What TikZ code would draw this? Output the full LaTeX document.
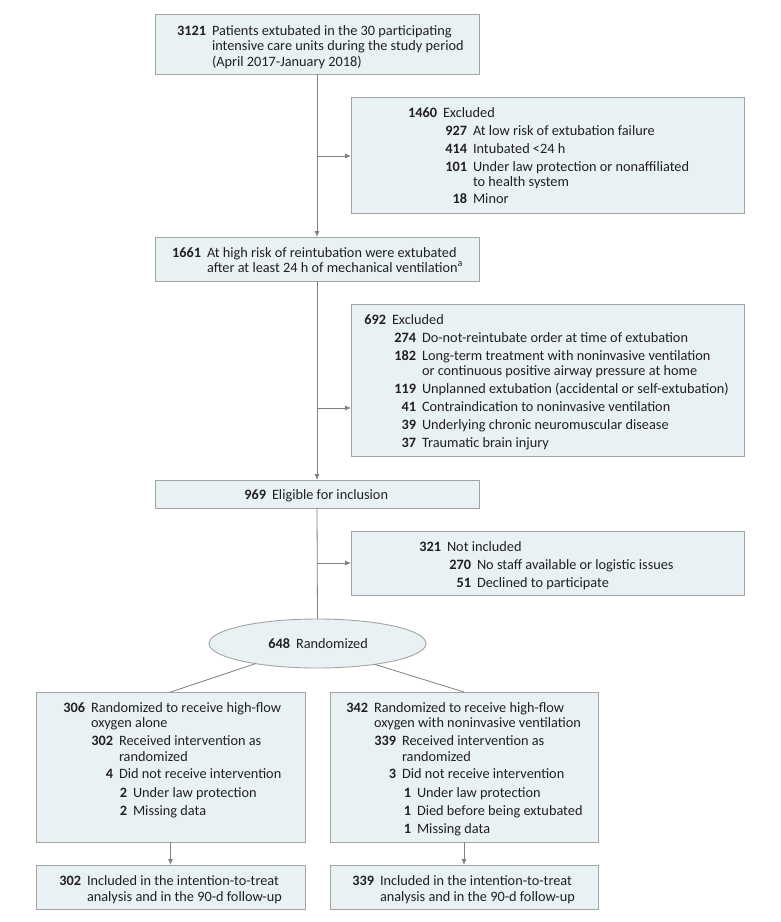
\documentclass[tikz,border=0pt]{standalone}
\usepackage{fontspec}
\setmainfont{Carlito}
\usetikzlibrary{shapes.geometric,arrows.meta}
\definecolor{boxfill}{HTML}{E8F2F4}
\definecolor{boxline}{HTML}{A3A3A3}
\definecolor{connc}{HTML}{808080}
\definecolor{ink}{HTML}{231F20}
\newcommand{\itm}[5]{\node[numtxt] (#1n) at ({#2-6},#3) {#4}; \node[bodytxt] (#1t) at (#2,#3) {#5};}
\newcommand{\cnt}[4]{\node[bodytxt] (#1) at (#2,#3) {#4};}
\begin{document}
\begin{tikzpicture}[x=1pt,y=-1pt,
 box/.style={draw=boxline,fill=boxfill,line width=0.9pt,inner sep=0pt,outer sep=0pt,anchor=north west},
 txt/.style={inner sep=0pt,outer sep=0pt,text=ink,font=\fontsize{14.3}{16}\selectfont},
 numtxt/.style={txt,font=\fontsize{14.3}{16}\selectfont\bfseries,anchor=base east},
 bodytxt/.style={txt,anchor=base west},
 conn/.style={draw=connc,line width=0.8pt},
 arr/.style={conn,-{Latex[length=6pt,width=5pt]}}]
\useasboundingbox (0,0) rectangle (780,922);

% boxes
\node[box,minimum width=324pt,minimum height=60pt] (b1) at (155,14) {};
\node[box,minimum width=393pt,minimum height=116pt] (b2) at (351,97) {};
\node[box,minimum width=324pt,minimum height=44pt] (b3) at (155,237) {};
\node[box,minimum width=393pt,minimum height=152pt] (b4) at (351,304) {};
\node[box,minimum width=324pt,minimum height=28pt] (b5) at (155,480) {};
\node[box,minimum width=393pt,minimum height=64pt] (b6) at (351,531) {};
\node[draw=boxline,fill=boxfill,line width=0.9pt,ellipse,minimum width=217pt,minimum height=49pt,inner sep=0pt,outer sep=0pt] (e) at (317.5,643.5) {};
\node[box,minimum width=269pt,minimum height=150pt] (bl) at (36,692) {};
\node[box,minimum width=268pt,minimum height=150pt] (br) at (330,692) {};
\node[box,minimum width=269pt,minimum height=44pt] (fl) at (36,865) {};
\node[box,minimum width=268pt,minimum height=44pt] (fr) at (330,865) {};

% connectors
\coordinate (j1) at (317,156);
\coordinate (j2) at (317,408);
\coordinate (j3) at (317,563);
\draw[arr] (b1.south) -- (b3.north);
\draw[arr] (j1) -- (j1 -| b2.west);
\draw[arr] (b3.south) -- (b5.north);
\draw[arr] (j2) -- (j2 -| b4.west);
\draw[conn] (b5.south) -- (e.north);
\draw[arr] (j3) -- (j3 -| b6.west);
\draw[conn] (e.198) -- (bl.north);
\draw[conn] (e.340) -- (br.north);
\draw[arr] (bl.south) -- (fl.north);
\draw[arr] (br.south) -- (fr.north);

% box 1
\itm{a1}{212}{35}{3121}{Patients extubated in the 30 participating}
\cnt{a2}{212}{50.5}{intensive care units during the study period}
\cnt{a3}{212}{66}{(April 2017-January 2018)}

% box 2
\itm{c1}{443}{117}{1460}{Excluded}
\itm{c2}{473}{135.5}{927}{At low risk of extubation failure}
\itm{c3}{473}{153}{414}{Intubated <24 h}
\itm{c4}{473}{171}{101}{Under law protection or nonaffiliated}
\cnt{c5}{473}{186}{to health system}
\itm{c6}{473}{203}{18}{Minor}

% box 3
\itm{d1}{207}{257}{1661}{At high risk of reintubation were extubated}
\cnt{d2}{207}{272}{after at least 24 h of mechanical ventilation\textsuperscript{a}}

% box 4
\itm{f1}{392}{324}{692}{Excluded}
\itm{f2}{422}{342}{274}{Do-not-reintubate order at time of extubation}
\itm{f3}{422}{360}{182}{Long-term treatment with noninvasive ventilation}
\cnt{f4}{422}{375.5}{or continuous positive airway pressure at home}
\itm{f5}{422}{393.5}{119}{Unplanned extubation (accidental or self-extubation)}
\itm{f6}{422}{411.5}{41}{Contraindication to noninvasive ventilation}
\itm{f7}{422}{429.5}{39}{Underlying chronic neuromuscular disease}
\itm{f8}{422}{447.5}{37}{Traumatic brain injury}

% box 5
\itm{g1}{272}{499}{969}{Eligible for inclusion}

% box 6
\itm{h1}{447}{551}{321}{Not included}
\itm{h2}{477}{569}{270}{No staff available or logistic issues}
\itm{h3}{477}{587}{51}{Declined to participate}

% ellipse
\itm{k1}{296}{648}{648}{Randomized}

% left arm
\itm{l1}{91}{712}{306}{Randomized to receive high-flow}
\cnt{l2}{91}{727}{oxygen alone}
\itm{l3}{119}{745}{302}{Received intervention as}
\cnt{l4}{119}{761}{randomized}
\itm{l5}{119}{778}{4}{Did not receive intervention}
\itm{l6}{133}{797}{2}{Under law protection}
\itm{l7}{133}{815}{2}{Missing data}

% right arm
\itm{r1}{374}{712}{342}{Randomized to receive high-flow}
\cnt{r2}{374}{727}{oxygen with noninvasive ventilation}
\itm{r3}{402}{745}{339}{Received intervention as}
\cnt{r4}{402}{761}{randomized}
\itm{r5}{402}{778}{3}{Did not receive intervention}
\itm{r6}{417}{797}{1}{Under law protection}
\itm{r7}{417}{815}{1}{Died before being extubated}
\itm{r8}{417}{833}{1}{Missing data}

% final boxes
\itm{p1}{87}{885}{302}{Included in the intention-to-treat}
\cnt{p2}{87}{901}{analysis and in the 90-d follow-up}
\itm{q1}{380}{885}{339}{Included in the intention-to-treat}
\cnt{q2}{380}{901}{analysis and in the 90-d follow-up}
\end{tikzpicture}
\end{document}
